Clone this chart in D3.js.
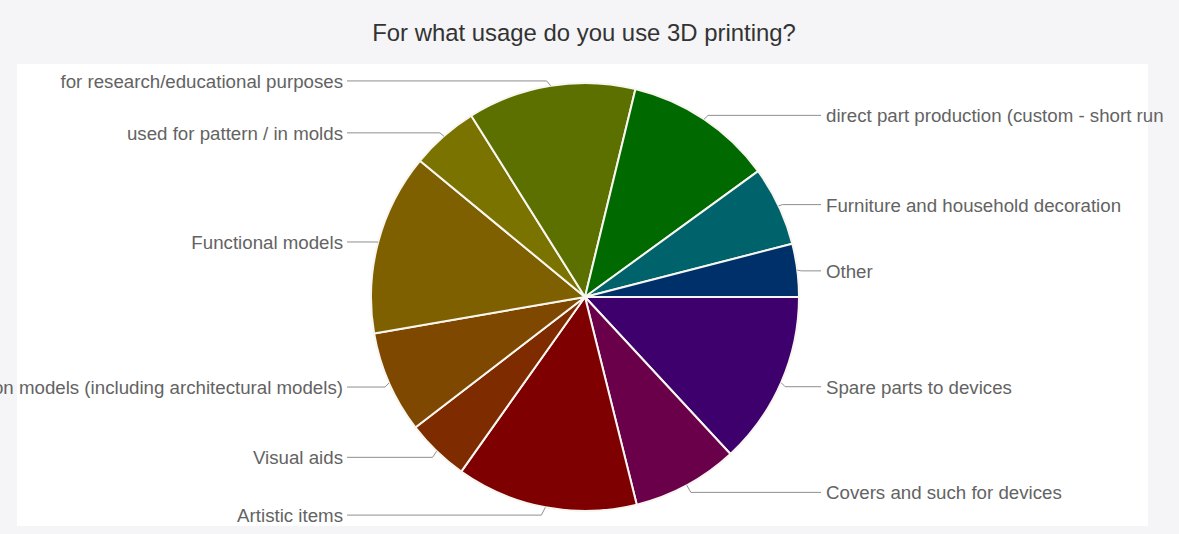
<!DOCTYPE html>
<html>
<head>
<meta charset="utf-8">
<script src="https://cdn.jsdelivr.net/npm/d3@7"></script>
<style>
  html, body { margin: 0; padding: 0; background: #f5f5f7; overflow: hidden; }
  svg { display: block; font-family: "Liberation Sans", Arial, Helvetica, sans-serif; }
</style>
</head>
<body>
<svg width="1179" height="534"></svg>
<script>
// slices, clockwise from 3 o'clock
const categories = [
  "Spare parts to devices",
  "Covers and such for devices",
  "Artistic items",
  "Visual aids",
  "Presentation models (including architectural models)",
  "Functional models",
  "used for pattern / in molds",
  "for research/educational purposes",
  "direct part production (custom - short run",
  "Furniture and household decoration",
  "Other"
];
const values = [13.1, 8.0, 13.7, 4.75, 7.7, 13.7, 5.1, 12.7, 11.2, 6.0, 4.0];
const colors = ["#3d006c", "#6a0049", "#7f0000", "#7f2b00", "#7f4800", "#7f6000",
                "#7b7300", "#5c7000", "#006a00", "#00626a", "#00306a"];
const title = "For what usage do you use 3D printing?";

const svg = d3.select("svg");
const cx = 585, cy = 297, r = 214;

// white panel behind the chart
svg.append("rect")
    .attr("x", 17).attr("y", 64)
    .attr("width", 1131).attr("height", 462)
    .attr("fill", "#ffffff");

svg.append("text")
    .attr("x", 584).attr("y", 41)
    .attr("text-anchor", "middle")
    .attr("font-size", 23.9)
    .attr("fill", "#333")
    .text(title);

const pie = d3.pie()
    .sort(null)
    .startAngle(Math.PI / 2)
    .endAngle(Math.PI / 2 + 2 * Math.PI)
    .value(d => d);

const arc = d3.arc().innerRadius(0).outerRadius(r);
const arcs = pie(values);

const g = svg.append("g").attr("transform", `translate(${cx},${cy})`);

g.selectAll("path")
    .data(arcs)
    .enter()
    .append("path")
    .attr("d", arc)
    .attr("fill", (d, i) => colors[i])
    .attr("stroke", "#f8f6f0")
    .attr("stroke-width", 2)
    .attr("stroke-linejoin", "round");

// labels with leader lines
const labels = svg.append("g");
arcs.forEach((d, i) => {
    const a = (d.startAngle + d.endAngle) / 2;
    const mx = cx + r * Math.sin(a);
    const my = cy - r * Math.cos(a);
    const side = Math.sin(a) > 0 ? 1 : -1;
    const ly = cy + (my - cy) * 1.03 + 1.5;
    const endX = side > 0 ? 821 : 347;

    labels.append("path")
        .attr("d", d3.line()([[mx, my], [mx + side * 4, ly], [endX, ly]]))
        .attr("fill", "none")
        .attr("stroke", "#8f8f8f")
        .attr("stroke-width", 1);

    labels.append("text")
        .attr("x", side > 0 ? 826 : 343)
        .attr("y", ly)
        .attr("dy", "0.38em")
        .attr("text-anchor", side > 0 ? "start" : "end")
        .attr("font-size", 18.7)
        .attr("fill", "#636363")
        .text(categories[i]);
});
</script>
</body>
</html>
